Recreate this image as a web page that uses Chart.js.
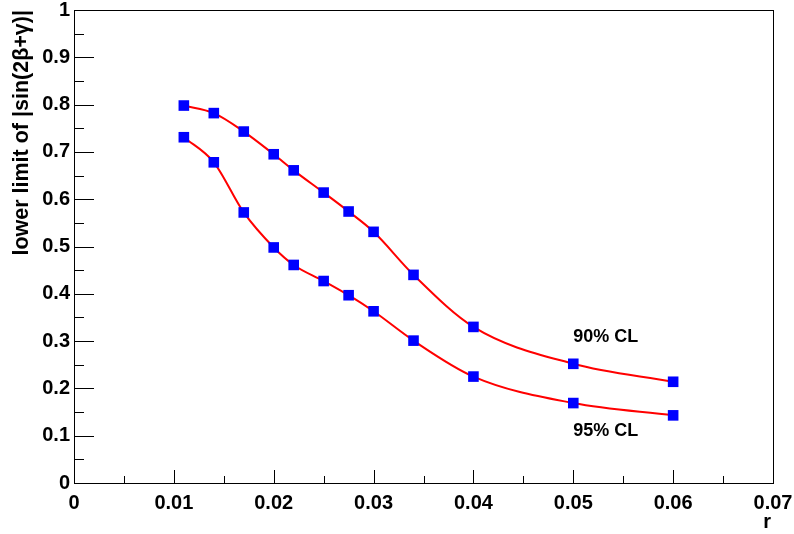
<!DOCTYPE html>
<html>
<head>
  <meta charset="UTF-8">
  <title>lower limit of |sin(2β+γ)| vs r</title>
  <script src="https://cdn.jsdelivr.net/npm/chart.js"></script>
  <style>
    body { margin: 0; background: #fff; }
    #wrap { width: 794px; height: 534px; }
  </style>
</head>
<body>
  <div id="wrap"><canvas id="chart" width="794" height="534"></canvas></div>

  <script>
    // r values (same for both curves)
    const rValues = [0.011, 0.014, 0.017, 0.020, 0.022, 0.025, 0.0275, 0.030, 0.034, 0.040, 0.050, 0.060];
    // lower limit of |sin(2b+g)|
    const cl90 = [0.798, 0.782, 0.743, 0.695, 0.661, 0.614, 0.574, 0.531, 0.440, 0.330, 0.252, 0.214];
    const cl95 = [0.731, 0.678, 0.572, 0.498, 0.461, 0.427, 0.397, 0.363, 0.301, 0.225, 0.169, 0.143];
    const curveLabels = ['90% CL', '95% CL'];
    const xTitle = 'r';
    const yTitle = 'lower limit of |sin(2β+γ)|';

    const FONT = '"Liberation Sans", Arial, sans-serif';

    function points(ys) {
      return rValues.map((x, i) => ({ x: x, y: ys[i] }));
    }

    function series(label, ys) {
      return {
        label: label,
        data: points(ys),
        borderColor: '#ff0000',
        borderWidth: 2,
        cubicInterpolationMode: 'monotone',
        pointStyle: 'rect',
        pointRadius: 7.5,
        pointBackgroundColor: '#0000ff',
        pointBorderColor: '#0000ff',
        pointBorderWidth: 0,
        fill: false
      };
    }

    // ROOT style: frame, inward ticks, titles and curve labels
    const rootFrame = {
      id: 'rootFrame',
      afterDraw(chart) {
        const { ctx, chartArea: a, scales: { x, y } } = chart;
        ctx.save();
        ctx.strokeStyle = '#000';
        ctx.lineWidth = 1;
        ctx.strokeRect(a.left + 0.5, a.top + 0.5, a.right - a.left, a.bottom - a.top);

        ctx.beginPath();
        for (let i = 0; i <= 14; i++) {
          const px = Math.round(x.getPixelForValue(i * 0.005)) + 0.5;
          const len = i % 2 === 0 ? 13 : 7;
          ctx.moveTo(px, a.bottom);
          ctx.lineTo(px, a.bottom - len);
        }
        for (let i = 0; i <= 20; i++) {
          const py = Math.round(y.getPixelForValue(i * 0.05)) + 0.5;
          const len = i % 2 === 0 ? 20 : 10;
          ctx.moveTo(a.left, py);
          ctx.lineTo(a.left + len, py);
        }
        ctx.stroke();

        ctx.fillStyle = '#000';
        ctx.font = 'bold 18px ' + FONT;
        ctx.textAlign = 'left';
        ctx.textBaseline = 'middle';
        ctx.fillText(curveLabels[0], x.getPixelForValue(0.05), y.getPixelForValue(0.309));
        ctx.fillText(curveLabels[1], x.getPixelForValue(0.05), y.getPixelForValue(0.11));

        ctx.font = 'bold 20px ' + FONT;
        ctx.textAlign = 'right';
        ctx.textBaseline = 'alphabetic';
        ctx.fillText(xTitle, a.right - 2, 528);

        ctx.translate(28, 10);
        ctx.rotate(-Math.PI / 2);
        ctx.font = 'bold 21.5px ' + FONT;
        ctx.textAlign = 'right';
        ctx.fillText(yTitle, 0, 0);
        ctx.restore();
      }
    };

    new Chart(document.getElementById('chart'), {
      type: 'line',
      data: {
        datasets: [series(curveLabels[0], cl90), series(curveLabels[1], cl95)]
      },
      plugins: [rootFrame],
      options: {
        responsive: false,
        animation: false,
        layout: { padding: 0 },
        plugins: { legend: { display: false }, tooltip: { enabled: false } },
        scales: {
          x: {
            type: 'linear',
            min: 0,
            max: 0.07,
            grid: { display: false, drawTicks: false },
            border: { display: false },
            afterFit(s) {
              s.height = 51;
              s.paddingLeft = 0;
              s.paddingRight = 21;
            },
            ticks: {
              stepSize: 0.01,
              padding: 8,
              color: '#000',
              font: { family: FONT, size: 20, weight: 'bold' },
              maxRotation: 0,
              callback: v => String(Math.round(v * 100) / 100)
            }
          },
          y: {
            type: 'linear',
            min: 0,
            max: 1,
            grid: { display: false, drawTicks: false },
            border: { display: false },
            afterFit(s) {
              s.width = 74;
              s.paddingTop = 10;
              s.paddingBottom = 0;
            },
            ticks: {
              stepSize: 0.1,
              padding: 4,
              color: '#000',
              font: { family: FONT, size: 20, weight: 'bold' },
              callback: v => String(Math.round(v * 10) / 10)
            }
          }
        }
      }
    });
  </script>
</body>
</html>
